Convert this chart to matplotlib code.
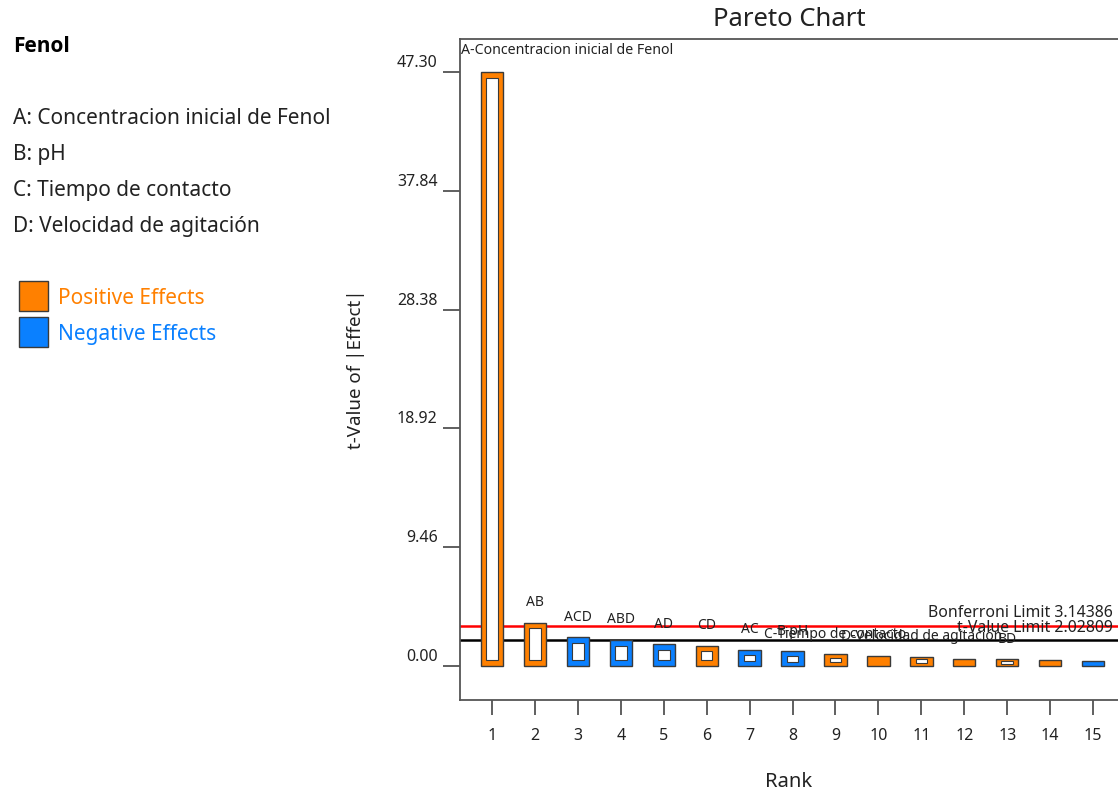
import matplotlib
matplotlib.use("Agg")
import matplotlib.pyplot as plt
from matplotlib.patches import Rectangle
from matplotlib.transforms import ScaledTranslation
import numpy as np

plt.rcParams['font.family'] = ['Noto Sans', 'DejaVu Sans']

# ---- data ----
ranks = list(range(1, 16))
t_values = [47.30, 3.44, 2.28, 2.07, 1.73, 1.61, 1.30, 1.17, 0.93, 0.80, 0.74, 0.58, 0.53, 0.48, 0.40]
signs = ['+', '+', '-', '-', '-', '+', '-', '-', '+', '+', '+', '+', '+', '+', '-']
term_labels = ["A-Concentracion inicial de Fenol", "AB", "ACD", "ABD", "AD", "CD", "AC", "B-pH",
               "C-Tiempo de contacto", "", "D-Velocidad de agitación", "", "BD", "", ""]
ytick_values = [0.00, 9.46, 18.92, 28.38, 37.84, 47.30]
bonferroni_limit = 3.14386
t_value_limit = 2.02809
factor_lines = ["A: Concentracion inicial de Fenol", "B: pH", "C: Tiempo de contacto",
                "D: Velocidad de agitación"]
response_name = "Fenol"

ORANGE = '#FF8000'
BLUE = '#0A80FF'
EDGE = '#3a3a3a'

W, H = 1118, 794
fig = plt.figure(figsize=(W / 100, H / 100), dpi=100)

def fx(px):
    return px / W

def fy(py):
    return 1 - py / H

ax = fig.add_axes([fx(460), fy(700), fx(1118) - fx(460), fy(39) - fy(700)])
ax.set_xlim(0.255, 15.58)
ax.set_ylim(-2.71, 49.92)

colors = [ORANGE if s == '+' else BLUE for s in signs]
bar_w = 0.52
inner_w = 0.27
ax.bar(ranks, t_values, width=bar_w, color=colors, edgecolor=EDGE, linewidth=1.0, zorder=3)

for r, v, lab in zip(ranks, t_values, term_labels):
    if lab:
        inset = min(0.45, 0.3 * v)
        ax.bar(r, v - 2 * inset, bottom=inset, width=inner_w, color='white',
               edgecolor=EDGE, linewidth=0.8, zorder=4)

# limit lines
ax.axhline(bonferroni_limit, color='#FF0000', linewidth=1.8, zorder=2)
ax.axhline(t_value_limit, color='black', linewidth=1.8, zorder=2)
ax.annotate(f"Bonferroni Limit {bonferroni_limit:.5f}", xy=(1.0, bonferroni_limit),
            xycoords=('axes fraction', 'data'), xytext=(-4, 10), textcoords='offset points',
            ha='right', va='center', fontsize=11.4, color='#222222', zorder=5)
ax.annotate(f"t-Value Limit {t_value_limit:.5f}", xy=(1.0, t_value_limit),
            xycoords=('axes fraction', 'data'), xytext=(-4, 9), textcoords='offset points',
            ha='right', va='center', fontsize=11.4, color='#222222', zorder=5)

# term labels
for r, v, lab in zip(ranks, t_values, term_labels):
    if not lab:
        continue
    if r == 1:
        ax.text(0.002, 0.982, lab, transform=ax.transAxes, ha='left', va='center',
                fontsize=10.2, color='#222222')
    else:
        ax.annotate(lab, xy=(r, v), xytext=(0, 14.5), textcoords='offset points',
                    ha='center', va='center', fontsize=10, color='#222222', zorder=5)

# ticks
ax.set_xticks(ranks)
ax.set_xticklabels([str(r) for r in ranks])
ax.set_yticks(ytick_values)
ax.set_yticklabels([f"{v:.2f}" for v in ytick_values])
ax.tick_params(axis='x', length=11, width=1.2, pad=9, labelsize=11.5, color='#444444', labelcolor='#222222')
ax.tick_params(axis='y', length=12, width=1.2, pad=4, labelsize=11.5, color='#444444', labelcolor='#222222')
for lbl in ax.get_yticklabels():
    lbl.set_transform(lbl.get_transform() + ScaledTranslation(0, 11 / 100, fig.dpi_scale_trans))

for s in ['left', 'bottom', 'top']:
    ax.spines[s].set_color('#555555')
    ax.spines[s].set_linewidth(1.3)
ax.spines['right'].set_visible(False)

ax.set_ylabel("t-Value of |Effect|", fontsize=13.5, color='#222222', labelpad=23)
ax.set_xlabel("Rank", fontsize=14.5, color='#222222', labelpad=20)
ax.set_title("Pareto Chart", fontsize=18.5, color='#222222', pad=9)

# left panel
fig.text(fx(13), fy(46), response_name, fontsize=15, fontweight='bold', ha='left', va='center',
         color='black', family=['Open Sans', 'DejaVu Sans'])
for i, line in enumerate(factor_lines):
    fig.text(fx(13), fy(119 + i * 35.7), line, fontsize=15, ha='left', va='center', color='#222222')

fig.patches.append(Rectangle((fx(19), fy(311)), fx(29), fy(281) - fy(311), transform=fig.transFigure,
                             facecolor=ORANGE, edgecolor=EDGE, linewidth=1.0))
fig.patches.append(Rectangle((fx(19), fy(347)), fx(29), fy(317) - fy(347), transform=fig.transFigure,
                             facecolor=BLUE, edgecolor=EDGE, linewidth=1.0))
fig.text(fx(58), fy(298), "Positive Effects", fontsize=15, ha='left', va='center', color=ORANGE)
fig.text(fx(58), fy(334), "Negative Effects", fontsize=15, ha='left', va='center', color=BLUE)

fig.savefig("out.png", dpi=100)
